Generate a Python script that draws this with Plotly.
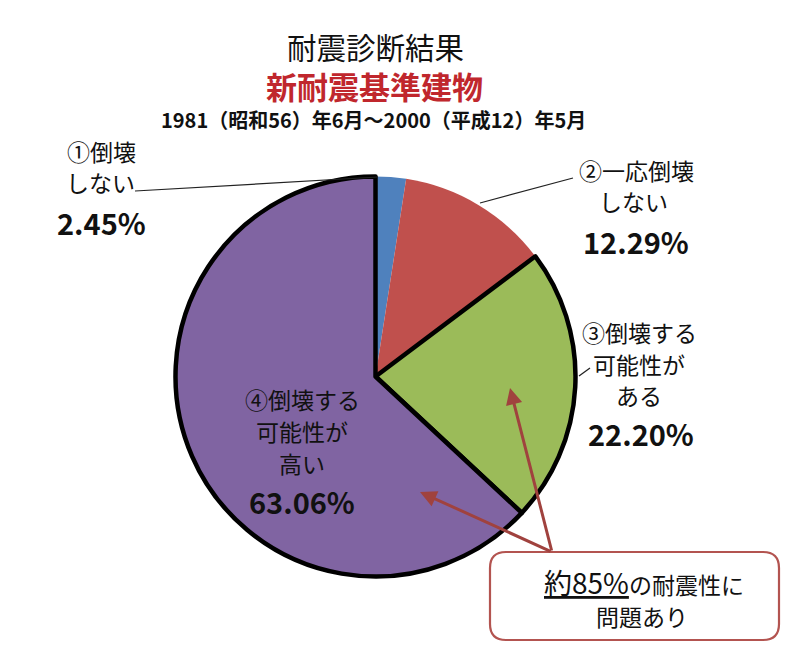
import plotly.graph_objects as go

W, H = 800, 655
FONT = "Noto Sans CJK JP"

categories = ["①倒壊しない", "②一応倒壊しない", "③倒壊する可能性がある", "④倒壊する可能性が高い"]
values = [2.45, 12.29, 22.20, 63.06]
colors = ["#4F81BD", "#C0504D", "#9BBB59", "#8064A2"]
line_widths = [0, 0, 4.5, 4.5]


def px(x):
    return x / W


def py(y):
    return 1 - y / H


fig = go.Figure()
cx, cy, r = 375.5, 376.5, 200
fig.add_trace(go.Pie(
    labels=categories,
    values=values,
    sort=False,
    direction="clockwise",
    rotation=0,
    textinfo="none",
    hoverinfo="label+percent",
    showlegend=False,
    marker=dict(colors=colors, line=dict(color="black", width=line_widths)),
    domain=dict(x=[px(cx - r), px(cx + r)], y=[py(cy + r), py(cy - r)]),
))

ann = []


def text(x, y, s, size, color="#111111", bold=False):
    ann.append(dict(
        x=px(x), y=py(y), xref="paper", yref="paper", showarrow=False,
        text=("<b>%s</b>" % s) if bold else s,
        font=dict(family=FONT, size=size, color=color),
        xanchor="center", yanchor="middle", align="center",
    ))


LS = 23
# titles
text(375, 45.5, "耐震診断結果", 29.5)
text(374, 86, "新耐震基準建物", 31, color="#C0272D", bold=True)
text(373, 119, "1981（昭和56）年6月～2000（平成12）年5月", 20, bold=True)

# label 1
text(101, 151, "①倒壊", LS)
text(100, 182, "しない", LS)
text(101, 222, "2.45%", 29, bold=True)
# label 2
text(636, 170, "②一応倒壊", LS)
text(633, 201.5, "しない", LS)
text(636, 241, "12.29%", 29, bold=True)
# label 3
text(639, 332, "③倒壊する", LS)
text(639, 364, "可能性が", LS)
text(639, 395, "ある", LS)
text(641, 433, "22.20%", 29, bold=True)
# label 4
text(302, 399, "④倒壊する", LS)
text(302, 431, "可能性が", LS)
text(302, 463, "高い", LS)
text(302, 501, "63.06%", 29, bold=True)

# callout box text
ann.append(dict(
    x=px(644), y=py(582), xref="paper", yref="paper", showarrow=False,
    text="<u><span style='font-size:28px'>約85%</span></u>の耐震性に",
    font=dict(family=FONT, size=23, color="#111111"),
    xanchor="center", yanchor="middle",
))
text(642, 616, "問題あり", 23)

# arrows
arrow_color = "#A0423E"
for hx, hy in [(420, 492), (510, 388)]:
    ann.append(dict(
        x=px(hx), y=py(hy), xref="paper", yref="paper",
        ax=552 - hx, ay=552 - hy, axref="pixel", ayref="pixel",
        text="", showarrow=True, arrowhead=2, arrowsize=1.1, arrowwidth=3,
        arrowcolor=arrow_color,
    ))

shapes = []
# leader lines
for (x0, y0, x1, y1) in [(135, 191, 378, 177), (573, 178, 480, 203), (590, 368, 579, 376)]:
    shapes.append(dict(type="line", xref="paper", yref="paper",
                       x0=px(x0), y0=py(y0), x1=px(x1), y1=py(y1),
                       line=dict(color="#222222", width=1.2)))

# rounded rectangle callout box
bx0, by0, bx1, by1, rr = 490, 552, 779, 640, 16
path = (f"M {px(bx0 + rr)},{py(by0)} L {px(bx1 - rr)},{py(by0)} "
        f"Q {px(bx1)},{py(by0)} {px(bx1)},{py(by0 + rr)} "
        f"L {px(bx1)},{py(by1 - rr)} Q {px(bx1)},{py(by1)} {px(bx1 - rr)},{py(by1)} "
        f"L {px(bx0 + rr)},{py(by1)} Q {px(bx0)},{py(by1)} {px(bx0)},{py(by1 - rr)} "
        f"L {px(bx0)},{py(by0 + rr)} Q {px(bx0)},{py(by0)} {px(bx0 + rr)},{py(by0)} Z")
shapes.append(dict(type="path", xref="paper", yref="paper", path=path,
                   fillcolor="white", line=dict(color="#B35450", width=2.2)))

fig.update_layout(
    width=W, height=H,
    margin=dict(l=0, r=0, t=0, b=0),
    paper_bgcolor="white", plot_bgcolor="white",
    annotations=ann, shapes=shapes,
    font=dict(family=FONT),
)

fig.write_html("out.html")
